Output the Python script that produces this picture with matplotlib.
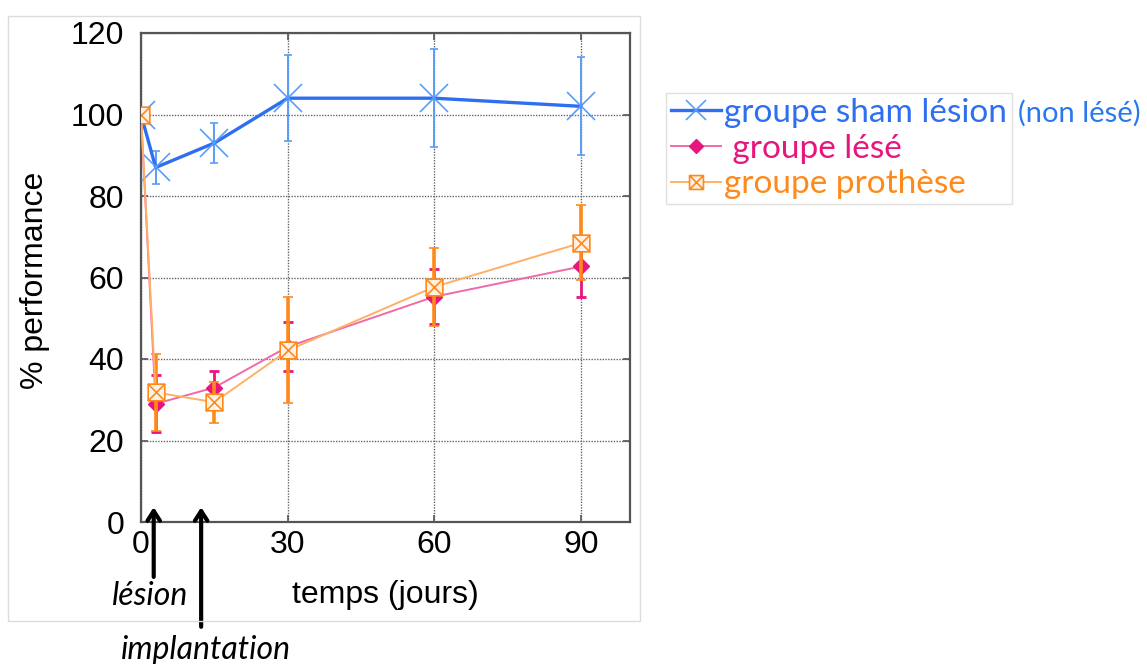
import matplotlib
matplotlib.use("Agg")
import matplotlib.pyplot as plt
from matplotlib.path import Path
from matplotlib.patches import Rectangle
from matplotlib.lines import Line2D

# ---- data ----
days_sham = [0, 3, 15, 30, 60, 90]
sham = [100, 87, 93, 104, 104, 102]
sham_err = [0, 4, 5, 10.5, 12, 12]

days_lese = [0, 3, 15, 30, 60, 90]
lese = [100, 29, 33, 43, 55.3, 62.7]
lese_err = [0, 7, 4, 6, 6.7, 7.5]

days_prot = [0, 3, 15, 30, 60, 90]
prot = [100, 31.8, 29.4, 42.1, 57.7, 68.5]
prot_err = [0, 9.4, 5, 13, 9.5, 9.2]

labels = ["groupe sham lésion", " groupe lésé", "groupe prothèse"]
xticks = [0, 30, 60, 90]
yticks = [0, 20, 40, 60, 80, 100, 120]

lesion_day = 2.6
implant_day = 12.3

W, H = 1147, 664
fig = plt.figure(figsize=(W / 100, H / 100), dpi=100)
fig.patch.set_facecolor("white")

def fx(px):
    return px / W

def fy(py):
    return 1 - py / H

# image frame
fig.patches.append(Rectangle((fx(8), fy(621)), fx(640) - fx(8), fy(16) - fy(621),
                             transform=fig.transFigure, fill=False,
                             edgecolor="#dcdcdc", linewidth=1))

ax = fig.add_axes([fx(141), fy(522), fx(630) - fx(141), fy(33) - fy(522)])

blue = "#2d6ff0"
blue_m = "#5b9cf6"
pink = "#e8157e"
pink_l = "#f06aa8"
orange = "#ff8a1c"
orange_l = "#ffb066"

# custom square-with-x marker
verts = [(-1, -1), (1, -1), (1, 1), (-1, 1), (-1, -1),
         (-1, -1), (1, 1), (-1, 1), (1, -1)]
codes = [Path.MOVETO, Path.LINETO, Path.LINETO, Path.LINETO, Path.CLOSEPOLY,
         Path.MOVETO, Path.LINETO, Path.MOVETO, Path.LINETO]
boxx = Path(verts, codes)

# sham
ax.errorbar(days_sham, sham, yerr=sham_err, color=blue, linewidth=2.4,
            ecolor=blue_m, elinewidth=1.4, capsize=3, capthick=1.4,
            marker="x", markersize=20, markeredgecolor=blue_m, markeredgewidth=1.2,
            zorder=3)
# lésé
ax.errorbar(days_lese, lese, yerr=lese_err, color=pink_l, linewidth=1.4,
            ecolor=pink, elinewidth=2, capsize=3.5, capthick=2,
            marker="D", markersize=8, markerfacecolor=pink, markeredgecolor=pink,
            zorder=4)
# prothèse
ax.errorbar(days_prot, prot, yerr=prot_err, color=orange_l, linewidth=1.4,
            ecolor=orange, elinewidth=2.6, capsize=3.5, capthick=2.2,
            marker=boxx, markersize=12, markerfacecolor="#fff1e2", markeredgecolor=orange,
            markeredgewidth=1.2, zorder=5)

ax.set_xlim(0, 100)
ax.set_ylim(0, 120)
ax.set_xticks(xticks)
ax.set_yticks(yticks)
ax.tick_params(direction="in", top=True, right=True, length=5, width=1.2,
               labelsize=23, colors="#555555", labelcolor="black")
ax.tick_params(axis="x", pad=6)
ax.tick_params(axis="y", pad=12)
for lab in ax.get_xticklabels() + ax.get_yticklabels():
    lab.set_fontfamily("Liberation Sans")
for s in ax.spines.values():
    s.set_color("#555555")
    s.set_linewidth(1.6)
ax.grid(True, linestyle=(0, (1, 1)), color="#666666", linewidth=1)
ax.set_axisbelow(True)
ax.set_xlabel("temps (jours)", fontsize=23, family="Liberation Sans")
ax.xaxis.set_label_coords((385 - 141) / (630 - 141), -(595 - 522) / (522 - 33))
ax.xaxis.label.set_va("center")
ax.set_ylabel("% performance", fontsize=23, family="Liberation Sans")
ax.yaxis.set_label_coords(-(141 - 35) / (630 - 141), (522 - 280) / (522 - 33))
ax.yaxis.label.set_va("center")

# arrows
xt = ax.get_xaxis_transform()
ax.annotate("", xy=(lesion_day, 0.036), xycoords=xt,
            xytext=(lesion_day, -0.118), textcoords=xt,
            arrowprops=dict(arrowstyle="->,head_length=0.7,head_width=0.45",
                            color="black", lw=3), annotation_clip=False)
ax.annotate("", xy=(implant_day, 0.036), xycoords=xt,
            xytext=(implant_day, -0.22), textcoords=xt,
            arrowprops=dict(arrowstyle="->,head_length=0.7,head_width=0.45",
                            color="black", lw=3), annotation_clip=False)
fig.text(fx(150), fy(596), "lésion", style="italic", family="Lato", fontsize=23,
         ha="center", va="center")
fig.text(fx(206), fy(650), "implantation", style="italic", family="Lato", fontsize=23,
         ha="center", va="center")

# legend
h1 = Line2D([], [], color=blue, lw=2.4, marker="x", markersize=15,
            markeredgecolor=blue_m, markeredgewidth=1.2)
h2 = Line2D([], [], color=pink_l, lw=1.4, marker="D", markersize=7,
            markerfacecolor=pink, markeredgecolor=pink)
h3 = Line2D([], [], color=orange_l, lw=1.4, marker=boxx, markersize=10,
            markerfacecolor="#fff1e2", markeredgecolor=orange, markeredgewidth=1.2)
leg = fig.legend([h1, h2, h3], labels, loc="upper left",
                 bbox_to_anchor=(fx(666), fy(93)), borderaxespad=0,
                 frameon=True, fancybox=False,
                 edgecolor="#e0e0e0", framealpha=1, borderpad=0.15, handlelength=1.5,
                 handletextpad=0.1, labelspacing=0.17,
                 labelcolor=[blue, pink, orange],
                 prop={"family": "Lato", "size": 24})
leg.get_frame().set_linewidth(1)
fig.text(fx(1018), fy(113), "(non lésé)", color="#2a78f0", family="Lato",
         fontsize=21, ha="left", va="center")

fig.savefig("out.png", dpi=100)
